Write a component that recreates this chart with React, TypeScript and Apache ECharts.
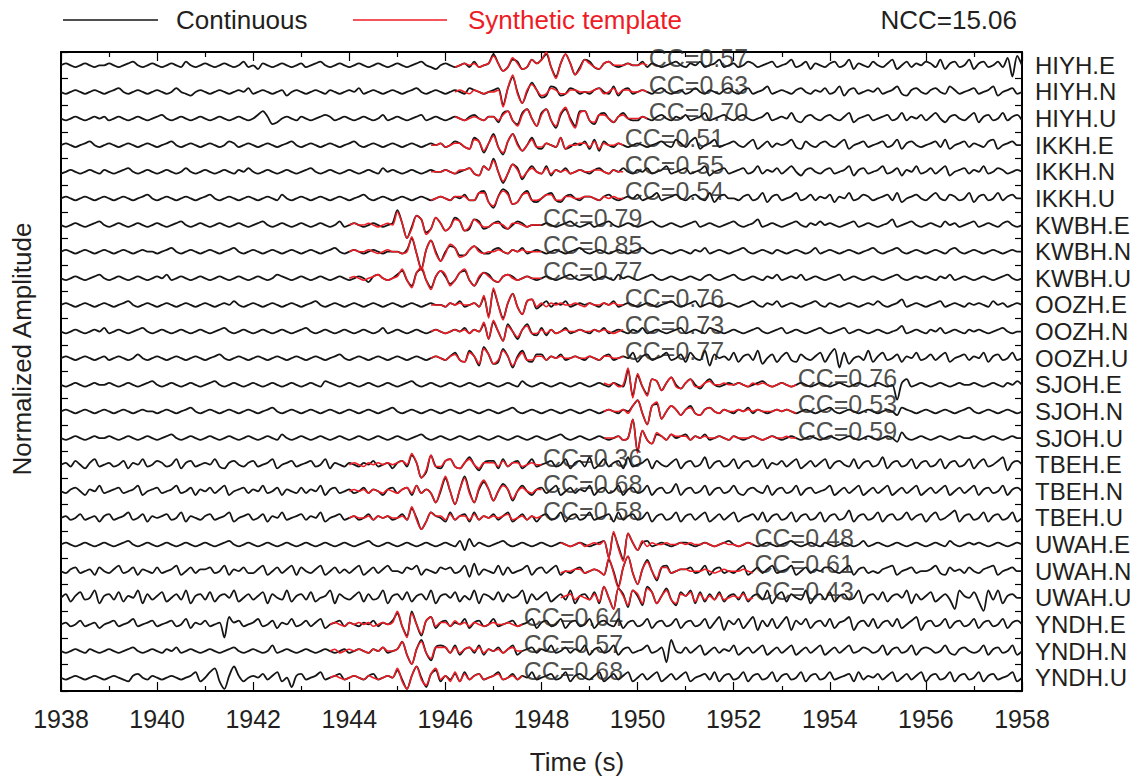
import React, { useEffect, useRef } from "react";
import * as echarts from "echarts";

// Station components, top to bottom
const STATIONS = [
  "HIYH.E", "HIYH.N", "HIYH.U",
  "IKKH.E", "IKKH.N", "IKKH.U",
  "KWBH.E", "KWBH.N", "KWBH.U",
  "OOZH.E", "OOZH.N", "OOZH.U",
  "SJOH.E", "SJOH.N", "SJOH.U",
  "TBEH.E", "TBEH.N", "TBEH.U",
  "UWAH.E", "UWAH.N", "UWAH.U",
  "YNDH.E", "YNDH.N", "YNDH.U",
];

// Correlation coefficient of each template with the continuous record
const CC_VALUES = [
  0.57, 0.63, 0.70, 0.51, 0.55, 0.54, 0.79, 0.85, 0.77, 0.76, 0.73, 0.77,
  0.76, 0.53, 0.59, 0.36, 0.68, 0.58, 0.48, 0.61, 0.43, 0.64, 0.57, 0.68,
];

// Start time (s) of each synthetic template window
const TEMPLATE_START = [
  1946.2, 1946.2, 1946.2, 1945.7, 1945.7, 1945.7, 1944.0, 1944.0, 1944.0,
  1945.7, 1945.7, 1945.7, 1949.3, 1949.3, 1949.3, 1944.0, 1944.0, 1944.0,
  1948.4, 1948.4, 1948.4, 1943.6, 1943.6, 1943.6,
];
const TEMPLATE_LENGTH = 4.0;
const NCC = 15.06;

const T_START = 1938;
const T_END = 1958;
const T_STEP = 0.1; // sample spacing of the traces (s)
const X_INTERVAL = 2;

// Normalized samples, one letter per sample: "M" is zero, each letter step is one amplitude unit.
// Continuous records, 1938.0 s to 1958.0 s, groups of ten samples = one second.
const CONTINUOUS = [
  "MNMLMNMLMM NMLMNOMLMN MLMNMLOMLM NMLMNMLMOL MKNMLMNMLM NLMNOMLMNM LMNMLMNMLM NMLMNOMLKM NMLMNLOLMN SNJLPOKLPN PSLGNSNHLP OLKNOMLMNM MOLNMLMNOM LNMOLMNPLM NLMONLMNOL MNPLMOKNML NOLMPKNMLO MLNPKMOLNM ONLPKNOLMP KNOLMOLQGR M",
  "MLMNMLMNML MNOMLMNMLM NMLMOMLKMN MLMNMLMNMO LMNMLMNKMN MLMNMLNMLM NMOLMNMLMN MLMNOMLMNM LMNMLONMLM NOFOUMGMRN JKPOKLONLM LNOMLPKNOL MNMLNOMLMN LMOMLNMLNO MLNOLMNPLM NMLNOMLNMO LMPKNOLMNM OLMNPLKNOM LNOMLPNLMN OLMNPKMNOL M",
  "MLMNMLMNMN LMNMLMNMLM NOMLMNMLMN MLMNMLMNML MOQNJKMNML NMLMNONLMN MLMNMLMOLM NMLMNOLMNM LMNMLNOMLN NKPQLJPRMI PRLHORMIQQ LJOPMKNPML LNMLNOMLNM OLMNPLMNOM LNOMLMNPLM NMPLKNOMLN OMLNPKMNOL MNOLMPLNMO LNPMKNOMLN PKNOLMPLNO L",
  "MNMLMNOMLM NMLMNMLMNM LMNOMLMNML MNMLMONLMN MLMNMLMNOM LMNMLMNMLM NOMLMNMLMN MLMNMLMNMN LMONLKQOIN SLHOSNJMQL KNMLQKLNMO KPJOMLNMLM NMLMNOMLPN LOQKMNPLMN OMLNPKMOLN MNPLKOMLNO MLNPKMNOLM NOLMPKNOML MNOLPKMNOL NMLOPKMNOM M",
  "LMNMLMNMLN MLMNOMLMNM LMNMLMOMLM NMLMNMLNMO MLMNMLMNML MNOMLMNMLM NMLMNMLOMN MLMNMLMNMM NMLMNOLKPN TMGLQOIMPM LPKNMOLMNM LNOMLNMOML NMOLMNPLMN OLMNPKMNOL MNOLMPLNMO LNPMKNOMLN OLMNPKNOLM NPLMOKNMPL MOLNPKMNOL NMPLMONLMN M",
  "MNMLMNMLMN MLMNMLMNOM LMNMLMNMLM NOMLMNMLMN MLMNMLOMLM NMLMNMLMNM LMNOMLMNML MNMLMNMLMN MLNMOLLPQK HNRPJKOQLK MOPLKNOMLN NMLNOMLMNM OLMNPLMNOM LNOMLPKNOM MLNOLMPKNO LMNPLMOLNM OKNMPLMONL MNOLPKMNOM LNPMLONLMP KNOLMPLNOM M",
  "MLMNMLMNOM LMNMLMNMLM NMLMNOMLMN MLMNMLMNML MNOMLMNMLM NMLMNMLMOL MNMLMNMLMN UNFLRPIKQN JLQOJKPOKL NOLKMONLMM MNMLMNOMLM NLMNOMLMNM LMNOMLMNML MNOLMNMLMN OMLMNPLMNM LMNOMLNMOM NMLMNOLMNM LMNPLMNOML MNMLOMNLMN OLMNMLNOML M",
  "MNMLMNMLMN MLMNMLMNMM LMNOMLMNML MNMLMNOMLM NMLMNMLMNM LMNMLMNOML MNMLMNMLMM MLNTLDNSMH MPOKKNPNLL NOMLNMOLMN MLMNMLMNOM LMNMLMNMLM NOMLMNMLMN MLNMOLMNML MNOMLMNMLN MLMNMLMOLM NMLMNMLMNO MLMNOMLMNM LMNMLNOMLM NMLMNMLMNM M",
  "MLMNMLMNOM LMNMLMNMLM NMOLMNMLMN MLMNMLMNML MNMLMONMLM NMLMNMLMNM LMNMKNOMLM OQLIPRLHNQ NJLPQLIMPO LKNONLMNML MNMLMNOMLM NLMNMLOMNM LMNOMLMNML MNMLNOMLMN OMLMNMLNMO LMNMOLMNML MNOLMNMLMN MLMNOMLMNM NMLNMOLMNM LMNMLMNOML M",
  "MNMLMNMLMN MLMNOMLMNM LMNMLMNMLM NMLMNMOMLM NMLMNMLMNM LMNOMLMNML MNMLMNMLMN MLMNMLMNMM LNMOLMNLQG UMFNSLHOPK MOLNMOLMNM NMLNMOLMNM LMNMLMNOML MNOLMNMLMN MLMNOMLNMO LMNMLMNOML NMLMNMLMNM OMLMNPLMNM LMNOLMNMLN MNMLOMNLMN M",
  "MLMNMLMNMO LMNMLMNOML MNMLMNMLMN MLMNOMLMNM LMNMLMNMLM NOMLMNMLMN MLMNMLMOLM NMLMNMLMNM LMNMOLNMQI RMHQMINQLK OKNLMOLMNM LNMOLMNMLN MOLMNMLMNO LMNMLONMLM NMLMNOMLMN OLMNMLMNOM LMNOLMNMLM NMLMNPLMNM LNMOLMNMLN MNMLMNOMLM M",
  "MNMLMNMLMN LMNMLMOMLM NMLMNMLMNM LMNOMLMNML MNMLMNMLMN MLMNMLMNOM LMNMLMNMLM NMLMNMLMNM LNPLKQNISO JKRNHNQLKO OLNMOLMNML NMLNOLMNMP KNOLMNPLMO KPMLQIOMNL PKNOLQJMOK NPLKOMLNPK ORHPJMNLQK NPLMOKNMPL MOLNPKMNOL NMPKNOLMPL M",
  "MLMNMLMNMM NMLMNMLMNO MLMNMLMNML MNOMLMNMLM NMLMNMLMNM LMNMLONMLM NMLMNMLMNM LMNOMLMNML MNMLMNMLMN MLMNMLOMLM NMLMNMLMNM LMNMLNMLUG RLHPOJNQMK NPMKNPMLMN MNMLMNOMLM NMLMNMLMNM LMNMLMNMLM NMLMENPLMN MLMNMLMNMM NMLMNMLNMO M",
  "MNMLMNMLMN MLMNMLMNMM LMNMLMNOML MNMLMNMLMN MLMNOMLMNM LMNMLMNMLM NMLMNMLMNO MLMNMLMNML MNMLMNMLMN MLMNOMLMNM LMNMLMNMLM NMLMNMLNMP SLFPQIMPNK NPLKNOMLNM LNMOLNMLMN MNMLMNMLMN OMLMNMLMNM LMNMKONMLM NMLMNMLMNO MLMNMLMNML M",
  "MLMNMLMNMM NMLMNMLMNM LMNOMLMNML MNMLMNMLMN MLMNMLOMLM NMLMNMLMNM LMNMLMNMLM NMLMNOMLMN MLMNMLMNML MNMLMNMLMN MLMNOMLMNM LMNMLMNLMW FQLJONLOMN OLNMOLMNML NMLMNMLMNM LMNMLMNMLM NMLMNMLMNM LMNMKPMLMN MLMNMLMNMM NMLMNMLMNM M",
  "MNLOMKNPLM NLMOKNMPLM ONLMPKNOLM NMPLKNOMLN OLMNPKMNOL MNOLMPKNML NMLNMOLMNK NOLRNFIRLK OPLKNQMJNO OKPLNOKMPL MNOLMPKNOL QKMPLNOKQL MNPKOMLNPK NOLMQKNOLM PKNOLMPKNM OLNPKMOLNP KNOMLPKNOL MQKNOLMPKN OLMPKNOLMP KNPLMOQJNO M",
  "MLNOMKNMPL MNOLMNPKMN OLMNPLMOKN MOLNPKMNOL NMPLMOKNML OLNMPKNOLM NLMOLNMKNO LNOKPLNLGM TMFNUMGNRN HMQNHMPMKN OLNPKMOLNM PKNOLMPKNO LMPKNOLMQK NOLMPKNOLM PLKNOMLPKN OLMPKNOLMN PKMOLNPKMO LNPKMOLNPK MOLNPKMOLN PKNOLMPKNO M",
  "MNLMOLMNKN OLMNPLMOKN MNOLMPKNML NOLMNPKMNO LMOKNMPLMN OLNMPKMNOL MNLMOLNMNL MOLRMGKPNM KPLNOKPLNM OLNPKMOLNK NOLMPKNOLM PLMNOKPLNO LMPKNOLMPK NOLNPKMOLN PKMNOLPKNO LMPKNOLMPK NOLMQKNOLM PKNOLMPLNO KNPLMOQKNO LMPKNOLMPK M",
  "MNMLMNMLMN MLMNOMLMNM LMNMLMNMLM NMLMNOMLMN MLMNMLMNML MNMLMNMLMN MLMNOMLMNM LMNMLMNMLM NMLOJPLNML MNOMLMNMLM NMLMNMLMNM LMNOFSLESN JNOLMNMLMN NMLMNMLMNO MLMNMLMNML MNOMLMNMLN MLMNMLMOLM NMLMNMLMNM LMNMLOMLMN MNMLMNMLMN M",
  "MLNOLMNKOM LNPLMOKNML OLMNPKMOLN NOLMPKNMOL LNPKMOLNPK OMLNPKMOLN LNPKMOLNPM MLONPKNMLO NOLMPJQKNM LPKOLMNPKN OLNPKMLNOL MNMKSMEOUL FNSMHOPLMN NOLMPKNOLM LNPKMOLNPL MNPKMOLNMO OMLNPKNOLM LNOPKMNOLM MNPLKOMNLO MLNOPKMNOM M",
  "MOKNPLMQJN OLPKNMQJOL NPKMOLQJNO LPKNOMQKMO LNPJOMLQKN OLPKMNQJOM LNPKOLMQJN OLPKNOLQJN OMPKNLQJON LPKOMNQJOL NPKMOLQJNO LPJSMGROHQ NISPJNRLIP NQJPKOLPKN OLPKNOLQJN PKOMLQJNOL PKNOLMQJNO LPKNOMQJOL NPKMOLGQNM PKFQLQJNOM M",
  "MNLMOLMNKM NOLMNPLMNO LMNOLMPKNM OLMNFQNOLM NPLMOKNMPL MOLNPKMNOL NMLNMOLNMO SLGTMGOQKN OLNMPKNOLM PLMNOLMNPK NOLMPKNOLM PKNOMLPKNO LMPKNOLMPK NOLMPKNQJO MPKNQJOLPK NQJOMPKNOL PKNOQJNOLP KNOLPKMOQJ NOLMPKNOLM PKNOLMPKNO M",
  "MLMNMLNMLM NMLMNOMLMN MLNMOLMNML MNMLMNOMLM NMLMPLMNML MNMLMNMLMN LMNMLNMOLM NRKFNSLHOP OLPKNOLPKN MOLNPKMNOL NMPLMOLNMP KNOLMPKNOL MNPLMOGSML OLNPKMOLNM PKMOLNPKMO LNPKMOLNPK MOLNPLMONL MPKNOLMPKN ONLMPLKNOM LMPKNOLMPK M",
  "MLMNMLMNML MNMLKNOMLN MLMNMLMNPK MPRKGNSNKM NMOLNPKMHN OLMNPLMNOL MNMLNOLMNM QLGNSMHOQK NLOKPLNOLM NPLMOLNMPL MNOLMPKNOM LNPKMOLNPK MOLNPKMOLN PKMNOLPKNO LMPKNOLMPK NOLMPKNOLM PLMNOKPLNM OLNPKMOLNP KNOLMPKNOL MPKNOLMNPK M",
];

// Synthetic templates, 41 samples from TEMPLATE_START
const TEMPLATES = [
  "LMNMNLMN RNJLQNKLPN PTLFNSNHKP NLKNOMMMNM MNM",
  "MNMLNMLM MNEOVLGNQN KLONLLNNMM MNOLMOLNNM MNM",
  "NMLMNMLN NLOQLIORMI ORLIPSLHPQ LKOOMKNOMM MNM",
  "MMN LMNNLKPOJN RLIOSMJMPL LNMLQKMMNN LOKNMMNM",
  "MMM NMLNNOLKPN SMHLQNJMOM LOLNMNLMNM MNNMLNMM",
  "LMN MLNNNLLPPK INQOJKOPLL MOOLLNNMMN NMLNMNMM",
  "MNMMNMLMNM TNFKRPHKQN JLPOJLPNLL NNMKNNMLMM M",
  "MNMMNMLMNM MLMULCNSLH LQOJKNPMLM MNMLNMNMMM M",
  "MNMLMNOMLM NRLHPSLGNQ OILPRLINPN LKNOMLMNMM M",
  "MMM LNMNMMNLRF VMENSLHOPL NLNMNMMNML NMMNMNMM",
  "MNM LMNMNLNMRI SMHPMJNPLL NLNLMNMMNM MNMNMLMN",
  "MNM LNOLKPNJRO JLQNIMPLLN NLNMNMMNMM NMLNNMMN",
  "NMNLMVF SLGPOJNQLK NPLLNOMMNM MNMLNMNMLM NMLM",
  "MNMMNLP SLFPRIMPNK NOLKNOMLNM MNMNMNMMMN MNML",
  "MMMNLMW EQLJPNLONN NLNMNMMNML NMMMNMLMNM MNMM",
  "MNMLNMNMNM NOMSNFJRLL OPLKNPMKNN NLOLNNLMNM M",
  "MNMNLNMLNM LNOLPLNLGN UMFNTLGOSN HMPNIMOMLN N",
  "MNMMNLNMNM MNLSLGKPNN LOLNNLOLNM NMNOLMNLNM N",
  "NMLMNL MNMOFTKDSN JOLNMMNMMN MNMMNMLMNM MLMNM",
  "LMMNNL MNMKTLDOUL FNRMIOOLMN NMMMNMLMNM MMNML",
  "MNOLNM LOKSMGRNIQ OJRPJNQLJO NPKOLNLOLM NMOLM",
  "MNML NMNMNLMNMN TLFSMHOQLN NLOMNLNMLM NMMNMLM",
  "MNLM NMNMLNMOMM NRKFNRLIOO OLOLNOMOLN MNLNOMM",
  "MNML MNMLNMLMNM RKGNSLIORL NKPKOLNOLM NOLMNLN",
];

const AMP_UNIT = 0.07; // one letter step, in trace spacings
const FONT = '"Liberation Sans", Arial, Helvetica, sans-serif';
const TEXT_COLOR = "#231f20";
const TRACE_COLOR = "#151515";
const TEMPLATE_COLOR = "#ee1c25";

const decode = (s: string): number[] =>
  s.replace(/\s+/g, "").split("").map((ch) => ch.charCodeAt(0) - 77);

const baseline = (k: number) => STATIONS.length - 0.5 - k;

function buildOption() {
  const series: any[] = [];

  STATIONS.forEach((name, k) => {
    const values = decode(CONTINUOUS[k]);
    series.push({
      type: "line",
      name: "Continuous " + name,
      xAxisIndex: 0,
      yAxisIndex: 0,
      data: values.map((v, i) => [+(T_START + i * T_STEP).toFixed(2), baseline(k) + v * AMP_UNIT]),
      showSymbol: false,
      symbol: "none",
      smooth: 0.3,
      silent: true,
      lineStyle: { color: TRACE_COLOR, width: 1.8 },
      z: 2,
    });
  });

  STATIONS.forEach((name, k) => {
    const values = decode(TEMPLATES[k]);
    series.push({
      type: "line",
      name: "Template " + name,
      xAxisIndex: 0,
      yAxisIndex: 0,
      data: values.map((v, i) => [+(TEMPLATE_START[k] + i * T_STEP).toFixed(2), baseline(k) + v * AMP_UNIT]),
      showSymbol: false,
      symbol: "none",
      smooth: 0.3,
      silent: true,
      lineStyle: { color: TEMPLATE_COLOR, width: 1.6 },
      z: 3,
    });
  });

  series.push({
    type: "scatter",
    name: "CC",
    xAxisIndex: 0,
    yAxisIndex: 0,
    symbolSize: 1,
    silent: true,
    itemStyle: { color: "transparent" },
    data: STATIONS.map((_, k) => ({
      value: [TEMPLATE_START[k] + TEMPLATE_LENGTH, baseline(k)],
      label: { formatter: "CC=" + CC_VALUES[k].toFixed(2) },
    })),
    label: {
      show: true,
      position: "right",
      distance: 1,
      offset: [0, -7],
      fontSize: 25,
      lineHeight: 18,
      fontFamily: FONT,
      color: TEXT_COLOR,
    },
    z: 5,
  });

  const frameLine = { show: true, onZero: false, lineStyle: { color: "#000", width: 2 } };
  const xBase = {
    type: "value",
    min: T_START,
    max: T_END,
    interval: X_INTERVAL,
    axisLine: frameLine,
    axisTick: { show: true, inside: true, length: 9, lineStyle: { color: "#000", width: 1.2 } },
    minorTick: { show: true, splitNumber: 2, length: 5, lineStyle: { color: "#000", width: 1.2 } },
    splitLine: { show: false },
    minorSplitLine: { show: false },
  };
  const yBase = {
    type: "value",
    min: 0,
    max: STATIONS.length,
    interval: 1,
    axisLine: frameLine,
    axisTick: { show: true, inside: true, length: 7, lineStyle: { color: "#000", width: 1.2 } },
    axisLabel: { show: false },
    splitLine: { show: false },
  };

  return {
    animation: false,
    backgroundColor: "#ffffff",
    grid: { left: 61, right: 126, top: 52, bottom: 89, containLabel: false },
    xAxis: [
      {
        ...xBase,
        position: "bottom",
        axisLabel: {
          show: true,
          margin: 15,
          fontSize: 25,
          fontFamily: FONT,
          color: TEXT_COLOR,
          formatter: (v: number) => String(v),
        },
      },
      { ...xBase, position: "top", axisLabel: { show: false } },
    ],
    yAxis: [
      { ...yBase, position: "left" },
      { ...yBase, position: "right" },
      {
        type: "category",
        position: "right",
        data: [...STATIONS].reverse(),
        axisLine: { show: false },
        axisTick: { show: false },
        splitLine: { show: false },
        axisLabel: { show: true, interval: 0, margin: 13, fontSize: 24, lineHeight: 20, fontFamily: FONT, color: TEXT_COLOR },
      },
    ],
    series,
    graphic: [
      {
        type: "line",
        shape: { x1: 63, y1: 20, x2: 158, y2: 20 },
        style: { stroke: TRACE_COLOR, lineWidth: 1.6 },
      },
      {
        type: "text",
        x: 176,
        y: 20,
        style: { text: "Continuous", fill: TEXT_COLOR, fontSize: 26, fontFamily: FONT, align: "left", verticalAlign: "middle" },
      },
      {
        type: "line",
        shape: { x1: 353, y1: 20, x2: 447, y2: 20 },
        style: { stroke: TEMPLATE_COLOR, lineWidth: 1.6 },
      },
      {
        type: "text",
        x: 468,
        y: 20,
        style: { text: "Synthetic template", fill: TEMPLATE_COLOR, fontSize: 26, fontFamily: FONT, align: "left", verticalAlign: "middle" },
      },
      {
        type: "text",
        x: 1017,
        y: 20,
        style: { text: "NCC=" + NCC.toFixed(2), fill: TEXT_COLOR, fontSize: 26, fontFamily: FONT, align: "right", verticalAlign: "middle" },
      },
      {
        type: "text",
        x: 577,
        y: 762,
        style: { text: "Time (s)", fill: TEXT_COLOR, fontSize: 26, fontFamily: FONT, align: "center", verticalAlign: "middle" },
      },
      {
        type: "text",
        x: 22,
        y: 349,
        rotation: Math.PI / 2,
        style: { text: "Normalized Amplitude", fill: TEXT_COLOR, fontSize: 26, fontFamily: FONT, align: "center", verticalAlign: "middle" },
      },
    ],
  };
}

export default function App() {
  const ref = useRef<HTMLDivElement>(null);
  useEffect(() => {
    document.body.style.margin = "0";
    const chart = echarts.init(ref.current as HTMLDivElement, null, { renderer: "svg" });
    chart.setOption(buildOption() as any);
    return () => chart.dispose();
  }, []);
  return <div ref={ref} style={{ width: 1148, height: 780 }} />;
}
